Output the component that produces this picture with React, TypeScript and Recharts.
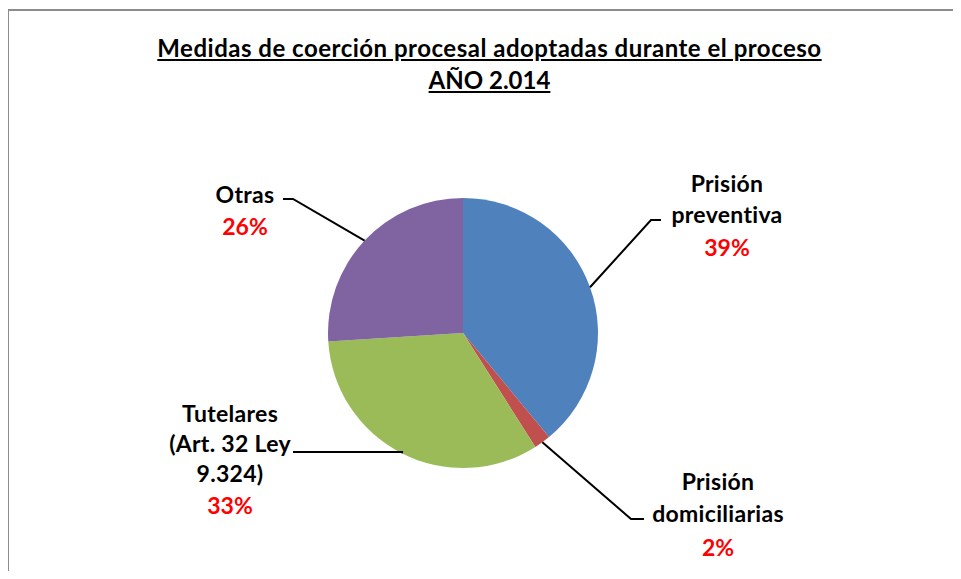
import { PieChart, Pie, Cell } from 'recharts';

const categories = ['Prisión preventiva', 'Prisión domiciliarias', 'Tutelares (Art. 32 Ley 9.324)', 'Otras'];
const shares = [39, 2, 33, 26];
const labelRows = [
  ['Prisión', 'preventiva'],
  ['Prisión', 'domiciliarias'],
  ['Tutelares', '(Art. 32 Ley', '9.324)'],
  ['Otras'],
];
const titleLines = ['Medidas de coerción procesal adoptadas durante el proceso', 'AÑO 2.014'];

const colors = ['#4F81BD', '#C0504D', '#9BBB59', '#8064A2'];

// where each callout sits: elbow of the leader, end of its short tail, text centre
const calloutLayout = [
  { elbow: [651, 220], tail: [661, 220], x: 727, y: 183, gap: 31 },
  { elbow: [631, 519], tail: [644, 519], x: 718, y: 481, gap: 32 },
  { elbow: [402, 452], tail: [293, 452], x: 230, y: 413, gap: 30 },
  { elbow: [293, 199], tail: [283, 199], x: 245, y: 194, gap: 30 },
];

const data = categories.map((name, i) => ({ name, value: shares[i] }));
const RAD = Math.PI / 180;
const font = 'Lato, "Open Sans", sans-serif';

function Callout(props: any) {
  const { cx, cy, midAngle, outerRadius, index, value } = props;
  const lay = calloutLayout[index];
  const sx = cx + outerRadius * Math.cos(-midAngle * RAD);
  const sy = cy + outerRadius * Math.sin(-midAngle * RAD);
  const rows = labelRows[index];
  return (
    <g>
      <polyline
        points={`${sx},${sy} ${lay.elbow[0]},${lay.elbow[1]} ${lay.tail[0]},${lay.tail[1]}`}
        fill="none"
        stroke="#000"
        strokeWidth={2}
      />
      {rows.map((r, k) => (
        <text key={k} x={lay.x} y={lay.y + k * lay.gap} textAnchor="middle" dominantBaseline="central"
          fontFamily={font} fontWeight="bold" fontSize={23} letterSpacing={0.3} fill="#000">
          {r}
        </text>
      ))}
      <text x={lay.x} y={lay.y + rows.length * lay.gap + 2} textAnchor="middle" dominantBaseline="central"
        fontFamily={font} fontWeight="bold" fontSize={23} fill="#FF0000">
        {`${value}%`}
      </text>
    </g>
  );
}

export default function App() {
  return (
    <div style={{ position: 'relative', width: 961, height: 579, margin: -8, background: '#fff', overflow: 'hidden' }}>
      <div style={{
        position: 'absolute', left: 7, top: 9, width: 1000, height: 600,
        borderTop: '2px solid #8c8c8c', borderLeft: '2px solid #8c8c8c',
      }} />
      {titleLines.map((t, i) => (
        <div key={i} style={{
          position: 'absolute', left: 0, width: 979, top: 33 + i * 32, textAlign: 'center',
          fontFamily: font, fontWeight: 'bold', fontSize: 24, letterSpacing: i === 0 ? 0.5 : 0,
          textDecoration: 'underline', color: '#000', lineHeight: '30px',
        }}>
          {t}
        </div>
      ))}
      <div style={{ position: 'absolute', left: 0, top: 0 }}>
        <PieChart width={961} height={579} margin={{ top: 0, right: 0, bottom: 0, left: 0 }}>
          <Pie
            data={data}
            dataKey="value"
            nameKey="name"
            cx={463}
            cy={333}
            outerRadius={135}
            startAngle={90}
            endAngle={-270}
            stroke="none"
            label={Callout}
            labelLine={false}
            isAnimationActive={false}
          >
            {data.map((d, i) => <Cell key={d.name} fill={colors[i]} />)}
          </Pie>
        </PieChart>
      </div>
    </div>
  );
}
